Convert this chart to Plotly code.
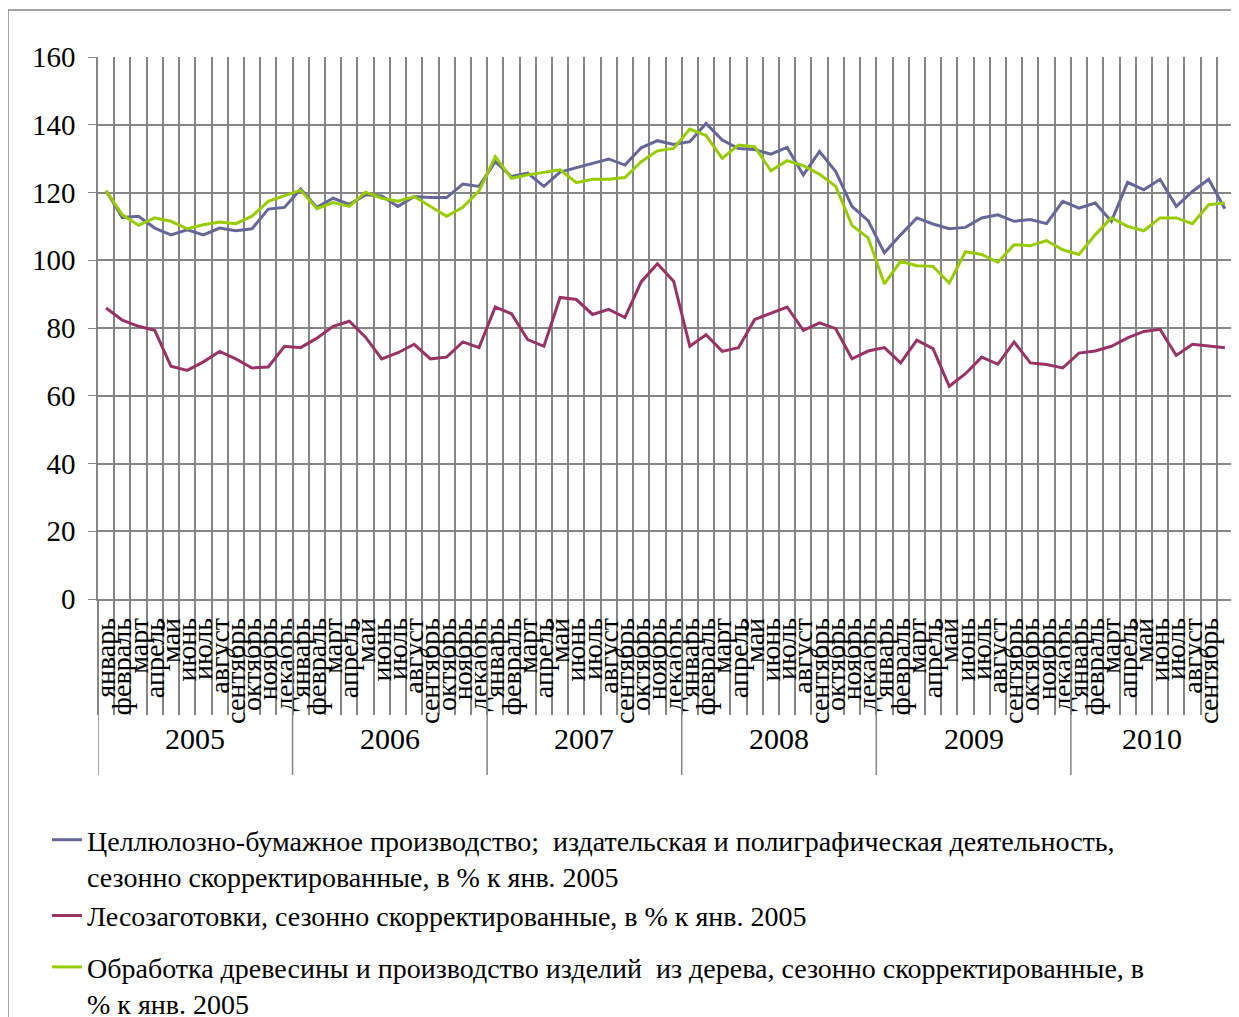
import plotly.graph_objects as go

years = ["2005", "2006", "2007", "2008", "2009", "2010"]
month_names = ["январь", "февраль", "март", "апрель", "май", "июнь",
               "июль", "август", "сентябрь", "октябрь", "ноябрь", "декабрь"]
months = month_names * 5 + month_names[:10]

pulp_paper = [120.5, 112.6, 113.0, 109.5, 107.5, 109.0, 107.5, 109.5, 108.7, 109.3, 115.1, 115.6,
              121.0, 115.6, 118.3, 116.5, 119.3, 119.0, 115.9, 118.8, 118.5, 118.5, 122.5, 121.8,
              129.1, 124.7, 125.7, 121.8, 126.0, 127.2, 128.6, 129.9, 128.1, 133.2, 135.3, 134.2,
              135.0, 140.4, 135.5, 133.0, 132.7, 131.3, 133.3, 125.2, 132.1, 126.2, 115.9, 111.7,
              102.2, 107.5, 112.5, 110.7, 109.3, 109.7, 112.5, 113.4, 111.5, 112.0, 110.8, 117.4,
              115.4, 116.9, 111.5, 123.0, 120.8, 123.9, 115.9, 120.3, 123.9, 115.2]
logging = [85.9, 82.3, 80.5, 79.3, 68.7, 67.5, 70.0, 73.1, 70.9, 68.2, 68.5, 74.6,
           74.2, 77.0, 80.5, 82.0, 77.3, 70.9, 72.7, 75.2, 70.9, 71.4, 75.9, 74.2,
           86.2, 84.2, 76.6, 74.6, 89.0, 88.4, 84.0, 85.5, 83.1, 93.6, 99.0, 93.8,
           74.6, 78.0, 73.1, 74.2, 82.5, 84.4, 86.2, 79.3, 81.5, 79.8, 70.9, 73.2,
           74.2, 69.7, 76.4, 73.9, 62.8, 66.5, 71.4, 69.3, 75.9, 69.7, 69.2, 68.2,
           72.6, 73.2, 74.6, 77.1, 79.0, 79.6, 71.9, 75.2, 74.6, 74.2]
woodwork = [120.5, 113.4, 110.3, 112.5, 111.5, 109.3, 110.5, 111.3, 110.8, 113.0, 117.4, 119.0,
            120.7, 115.2, 117.0, 115.9, 120.1, 118.3, 117.4, 118.8, 115.9, 113.0, 115.6, 120.5,
            130.6, 124.2, 125.2, 125.9, 126.7, 122.9, 123.9, 123.9, 124.4, 129.1, 132.3, 133.0,
            138.7, 136.8, 130.1, 134.0, 133.5, 126.4, 129.4, 127.9, 125.4, 121.8, 110.3, 106.6,
            93.0, 99.7, 98.4, 98.2, 93.3, 102.5, 101.7, 99.4, 104.6, 104.3, 105.8, 103.1,
            101.7, 107.5, 112.5, 110.0, 108.7, 112.5, 112.5, 110.8, 116.4, 116.9]

names = [
    "Целлюлозно-бумажное производство;  издательская и полиграфическая деятельность,<br>сезонно скорректированные, в % к янв. 2005",
    "Лесозаготовки, сезонно скорректированные, в % к янв. 2005",
    "Обработка древесины и производство изделий  из дерева, сезонно скорректированные, в<br>% к янв. 2005",
]
groups = ["a", "a", "b"]
colors = ["#666699", "#993366", "#99CC00"]

# page has an 8px body margin, so the figure is a bit smaller than the window
OFF = 8
W, H = 1239 - OFF, 1017 - OFF
L, T, R, B = 98 - OFF, 57 - OFF, 6, 418
PW, PH = W - L - R, H - T - B


def px(x):
    return (x - OFF - L) / PW


def py(y):
    return (H - B - (y - OFF)) / PH


FONT = "Liberation Serif, Times New Roman, serif"
GRID = "#868686"

xs = list(range(len(months)))
fig = go.Figure()
for vals, name, col, grp in zip([pulp_paper, logging, woodwork], names, colors, groups):
    fig.add_trace(go.Scatter(x=xs, y=vals, mode="lines", name=name, legendgroup=grp,
                             line=dict(color=col, width=3)))

# year dividers and labels under the month labels
starts = [-0.5 + 12 * k for k in range(len(years))]
for k, yr in enumerate(years):
    fig.add_shape(type="line", xref="x", yref="paper", x0=starts[k], x1=starts[k],
                  y0=0, y1=py(775), line=dict(color=GRID, width=1.5))
    end = min(starts[k] + 12, len(months) - 0.5)
    fig.add_annotation(x=(starts[k] + end) / 2, y=py(757), xref="x", yref="paper",
                       text=yr, showarrow=False, font=dict(size=30, color="black", family=FONT))

# outer chart border
fig.add_shape(type="rect", xref="paper", yref="paper", x0=px(8), x1=px(1238),
              y0=py(1040), y1=py(10), line=dict(color=GRID, width=1.5))

fig.update_layout(
    width=W, height=H,
    margin=dict(l=L, r=R, t=T, b=B, autoexpand=False),
    plot_bgcolor="white", paper_bgcolor="white",
    font=dict(family=FONT, size=28, color="black"),
    showlegend=True,
    legend=dict(xref="container", yref="container", x=(47 - OFF) / W, y=1 - (815 - OFF) / H,
                xanchor="left", yanchor="top", valign="top",
                font=dict(size=28), bgcolor="rgba(0,0,0,0)", tracegroupgap=12),
    xaxis=dict(range=[-0.5, len(months) - 0.5], tickmode="array", tickvals=xs, ticktext=months,
               tickangle=-90, showgrid=False, ticks="", zeroline=False, automargin=False,
               showline=True, linecolor=GRID, linewidth=1.5, ticklabelstandoff=6,
               tickfont=dict(size=28, family=FONT),
               minor=dict(tick0=0.5, dtick=1, showgrid=True, gridcolor=GRID, gridwidth=1.8,
                          ticks="outside", ticklen=114, tickcolor=GRID, tickwidth=1.5)),
    yaxis=dict(range=[0, 160], dtick=20, showgrid=True, gridcolor=GRID, gridwidth=1.8,
               zeroline=False, showline=True, linecolor=GRID, linewidth=1.5, automargin=False,
               ticks="outside", ticklen=8, tickcolor=GRID, ticklabelstandoff=7,
               tickfont=dict(size=29, family=FONT)),
)

fig.write_html("out.html")
